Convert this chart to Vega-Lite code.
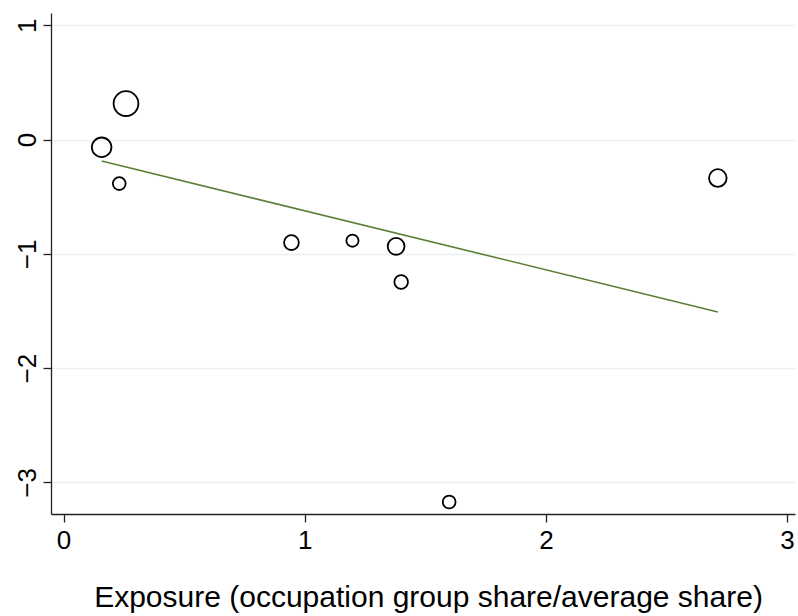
{
  "$schema": "https://vega.github.io/schema/vega-lite/v6.json",
  "width": 744,
  "height": 501,
  "autosize": {"type": "none"},
  "padding": {"left": 51, "top": 13, "right": 3, "bottom": 102},
  "background": "white",
  "config": {
    "view": {"stroke": null},
    "font": "Liberation Sans",
    "axis": {
      "labelFont": "Liberation Sans",
      "titleFont": "Liberation Sans",
      "labelColor": "black",
      "titleColor": "black",
      "domainColor": "#222222",
      "domainWidth": 1.3,
      "tickColor": "#222222",
      "tickWidth": 1.3,
      "tickSize": 8,
      "labelFontSize": 26,
      "labelFlush": false,
      "labelOverlap": false,
      "labelBound": false
    }
  },
  "datasets": {
    "groups": [
      {"x": 0.259, "y": 0.315, "w": 6.15},
      {"x": 0.158, "y": -0.067, "w": 3.84},
      {"x": 0.231, "y": -0.385, "w": 1.64},
      {"x": 0.945, "y": -0.901, "w": 2.19},
      {"x": 1.198, "y": -0.884, "w": 1.49},
      {"x": 1.379, "y": -0.934, "w": 2.82},
      {"x": 1.4, "y": -1.246, "w": 1.85},
      {"x": 2.713, "y": -0.336, "w": 3.1},
      {"x": 1.599, "y": -3.171, "w": 1.64}
    ],
    "fit": [
      {"x": 0.158, "y": -0.187},
      {"x": 2.713, "y": -1.508}
    ]
  },
  "encoding": {
    "x": {
      "field": "x",
      "type": "quantitative",
      "scale": {"domain": [-0.052, 3.033], "nice": false, "zero": false},
      "axis": {
        "values": [0, 1, 2, 3],
        "grid": false,
        "labelPadding": 5,
        "title": "Exposure (occupation group share/average share)",
        "titleFontSize": 30,
        "titleFontWeight": "normal",
        "titleBaseline": "alphabetic",
        "titleY": 92,
        "titleX": 377
      }
    },
    "y": {
      "field": "y",
      "type": "quantitative",
      "scale": {"domain": [-3.276, 1.108], "nice": false, "zero": false},
      "axis": {
        "values": [-3, -2, -1, 0, 1],
        "title": null,
        "grid": true,
        "gridColor": "#e8f0f1",
        "gridWidth": 1.5,
        "labelAngle": -90,
        "labelAlign": "center",
        "labelBaseline": "alphabetic",
        "labelPadding": 8
      }
    }
  },
  "layer": [
    {
      "data": {"name": "groups"},
      "mark": {"type": "point", "shape": "circle", "filled": false, "color": "black", "strokeWidth": 1.8, "opacity": 1},
      "encoding": {
        "size": {
          "field": "w",
          "type": "quantitative",
          "scale": {"domain": [0, 10], "range": [0, 1000]},
          "legend": null
        }
      }
    },
    {
      "data": {"name": "fit"},
      "mark": {"type": "line", "color": "#5b7f35", "strokeWidth": 1.6},
      "encoding": {}
    }
  ]
}
